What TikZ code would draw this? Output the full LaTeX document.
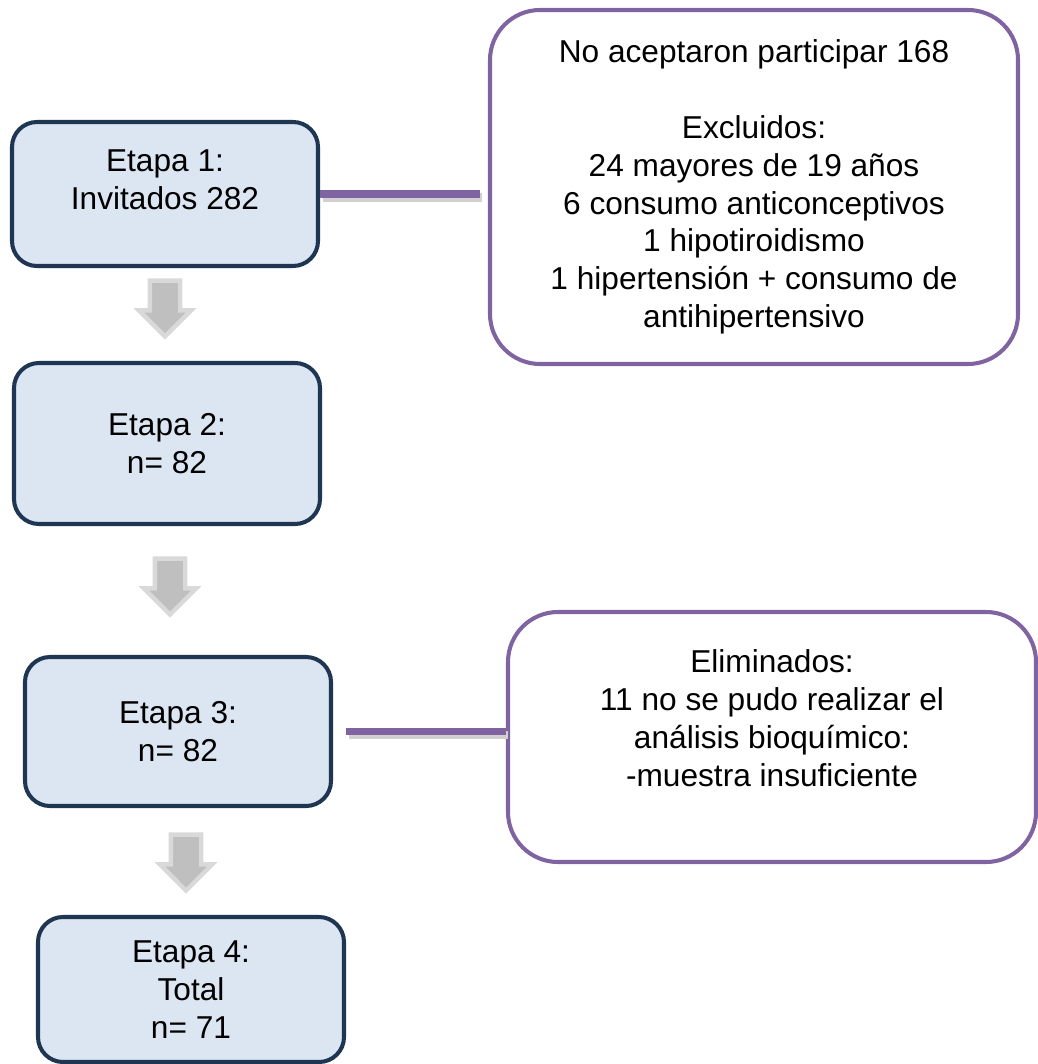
\documentclass[tikz,border=0pt]{standalone}
\usepackage{fontspec}
\setmainfont{Liberation Sans}
\usetikzlibrary{
  shapes.arrows,
  positioning
}
\definecolor{navy}{HTML}{1F3652}
\definecolor{stagefill}{HTML}{DCE6F2}
\definecolor{notepurple}{HTML}{8064A2}
\definecolor{arrowlight}{HTML}{D9D9D9}
\definecolor{arrowdark}{HTML}{BFBFBF}

\begin{document}
\begin{tikzpicture}[
  font=\fontsize{18}{21.5}\selectfont,
  stage/.style={
    rectangle, rounded corners=0.5cm, draw=navy, fill=stagefill,
    line width=2.3pt, minimum width=6.12cm, align=center, inner sep=0pt
  },
  note/.style={
    rectangle, rounded corners=1cm, draw=notepurple, fill=white,
    line width=2.3pt, minimum width=10.56cm, align=center, inner sep=0pt
  },
  down/.style={
    single arrow, rotate=-90, draw=arrowlight, fill=arrowdark,
    line width=2.5pt, minimum height=1.12cm, minimum width=1.0cm,
    single arrow head extend=0.22cm, single arrow tip angle=90,
    inner xsep=0pt, inner ysep=0.26cm
  },
  link/.style={
    notepurple, line width=4pt,
    preaction={draw, black!18, line width=5pt,
      transform canvas={shift={(0.05,-0.07)}}}
  },
]
\useasboundingbox (0,0) rectangle (20.74,-21.28);

% Stages (left column)
\node[stage, minimum height=2.88cm] (e1) at (3.30, -3.88)
  {Etapa 1:\\Invitados 282\\[-5pt] \mbox{}};
\node[stage, minimum height=3.22cm] (e2) at (3.34, -8.87)
  {Etapa 2:\\n= 82};
\node[stage, minimum height=2.98cm] (e3) at (3.56, -14.63)
  {Etapa 3:\\n= 82};
\node[stage, minimum height=2.90cm] (e4) at (3.82, -19.79)
  {Etapa 4:\\Total\\n= 71};

% Exclusion notes (right column)
\node[note, minimum height=7.08cm] (x1) at (15.08, -3.74)
  {No aceptaron participar 168\\ \mbox{}\\Excluidos:\\24 mayores de 19 años\\6 consumo anticonceptivos\\1 hipotiroidismo\\1 hipertensión + consumo de\\antihipertensivo};
\node[note, minimum height=5.0cm] (x2) at (15.44, -14.74)
  {Eliminados:\\11 no se pudo realizar el\\análisis bioquímico:\\-muestra insuficiente\\ \mbox{}};

% Down arrows between stages
\node[down] (a12) at (3.30, -6.02) {};
\node[down] (a23) at (3.40, -11.58) {};
\node[down] (a34) at (3.72, -17.10) {};

% Links to the notes
\draw[link] (e1.east) -- ([xshift=-0.16cm]x1.west |- e1.east);
\draw[link] ([xshift=0.26cm]e3.east) -- (e3.east -| x2.west);

\end{tikzpicture}
\end{document}
